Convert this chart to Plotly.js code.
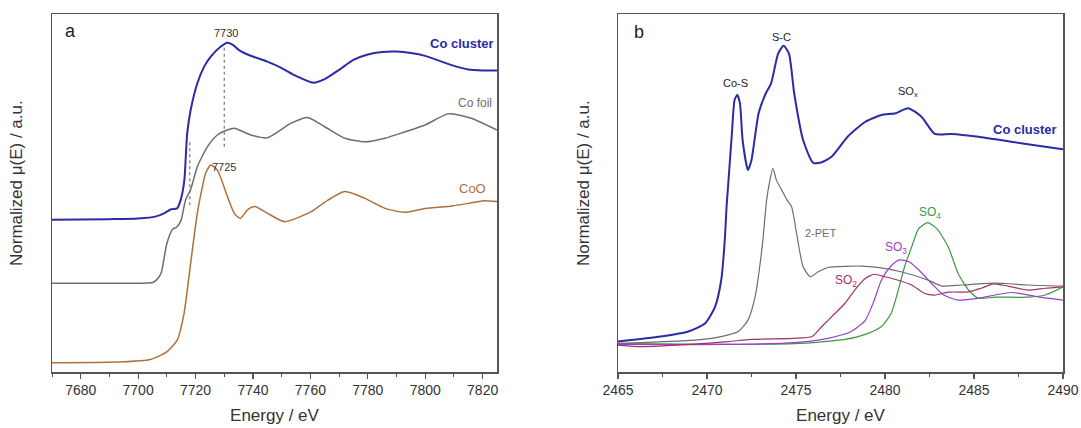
<!DOCTYPE html>
<html>
<head>
<meta charset="utf-8">
<script src="https://cdn.plot.ly/plotly-3.0.1.min.js"></script>
<style>
  html, body { margin: 0; padding: 0; background: #fff; }
  #chart { width: 1081px; height: 428px; }
</style>
</head>
<body>
<div id="chart"></div>
<script>
// ---- Panel a: Co K-edge XANES ----
const coClusterE = [7670, 7690, 7700, 7706, 7709, 7711.3, 7713.6, 7714.8, 7715.8, 7716.2, 7717.1, 7718.3, 7720.6, 7723, 7725.3, 7728.8, 7731, 7733, 7735, 7739, 7745, 7750, 7755, 7761, 7765, 7770, 7775, 7780, 7785, 7790, 7795, 7800, 7805, 7810, 7815, 7820, 7825];
const coClusterMu = [0.425, 0.427, 0.429, 0.434, 0.443, 0.454, 0.457, 0.480, 0.518, 0.545, 0.667, 0.732, 0.806, 0.853, 0.881, 0.909, 0.920, 0.914, 0.900, 0.884, 0.867, 0.849, 0.827, 0.808, 0.818, 0.844, 0.872, 0.887, 0.894, 0.895, 0.891, 0.883, 0.869, 0.855, 0.845, 0.842, 0.842];

const coFoilE = [7670, 7690, 7705, 7706.5, 7708, 7710, 7712, 7713.5, 7715, 7716.5, 7718.3, 7720.6, 7724.1, 7727.6, 7731, 7733.5, 7739.3, 7745, 7753.3, 7759, 7765, 7772, 7779, 7786, 7793, 7800, 7808, 7816, 7825];
const coFoilMu = [0.248, 0.248, 0.250, 0.258, 0.276, 0.359, 0.399, 0.405, 0.425, 0.480, 0.510, 0.573, 0.629, 0.662, 0.676, 0.681, 0.662, 0.654, 0.695, 0.711, 0.685, 0.653, 0.643, 0.653, 0.671, 0.690, 0.721, 0.709, 0.676];

const coOE = [7670, 7692.6, 7704.3, 7710.1, 7713.6, 7716, 7718.3, 7720.6, 7722.4, 7723.5, 7725.3, 7727.6, 7731.1, 7733.5, 7735.6, 7738.1, 7740.7, 7745.1, 7751, 7760.3, 7766.1, 7772, 7779, 7786, 7793, 7800, 7809.3, 7815.1, 7819.8, 7825];
const coOMu = [0.026, 0.028, 0.035, 0.057, 0.089, 0.164, 0.304, 0.443, 0.518, 0.555, 0.578, 0.564, 0.490, 0.443, 0.429, 0.453, 0.462, 0.443, 0.420, 0.448, 0.480, 0.504, 0.485, 0.457, 0.446, 0.457, 0.464, 0.471, 0.478, 0.476];

// edge / white-line markers (energy, lower and upper mu)
const guideE = [7730, 7718];
const guideLow = [0.629, 0.466];
const guideHigh = [0.910, 0.648];

// ---- Panel b: S K-edge XANES ----
const sClusterE = [2465, 2467.4, 2468.95, 2469.9, 2470.45, 2470.8, 2471.0, 2471.1, 2471.2, 2471.4, 2471.55, 2471.7, 2471.85, 2472.0, 2472.3, 2472.5, 2472.9, 2473.3, 2473.6, 2474.0, 2474.3, 2474.6, 2474.9, 2475.4, 2475.95, 2476.4, 2477.0, 2477.9, 2478.9, 2479.8, 2480.6, 2481.3, 2482.05, 2482.8, 2483.75, 2485.25, 2487.1, 2489.0, 2490];
const sClusterMu = [0.085, 0.099, 0.113, 0.136, 0.182, 0.257, 0.369, 0.462, 0.530, 0.667, 0.760, 0.774, 0.751, 0.648, 0.564, 0.592, 0.723, 0.778, 0.806, 0.890, 0.911, 0.890, 0.778, 0.648, 0.585, 0.585, 0.601, 0.657, 0.699, 0.718, 0.723, 0.737, 0.713, 0.665, 0.665, 0.657, 0.643, 0.629, 0.622];

const petE = [2465, 2469.3, 2470.8, 2471.75, 2472.3, 2472.7, 2473.1, 2473.35, 2473.5, 2473.7, 2473.9, 2474.2, 2474.5, 2474.75, 2475.0, 2475.4, 2475.8, 2476.25, 2476.8, 2478.7, 2479.6, 2480.9, 2482.4, 2483.2, 2484.3, 2486.2, 2488.05, 2490];
const petMu = [0.080, 0.089, 0.099, 0.113, 0.145, 0.210, 0.350, 0.480, 0.527, 0.569, 0.536, 0.508, 0.480, 0.462, 0.397, 0.294, 0.266, 0.280, 0.292, 0.296, 0.292, 0.280, 0.257, 0.240, 0.243, 0.248, 0.243, 0.240];

const so2E = [2465, 2466.1, 2469.3, 2471.2, 2472.5, 2474.9, 2475.9, 2476.45, 2477.2, 2477.75, 2478.3, 2478.9, 2479.4, 2480.0, 2480.7, 2481.5, 2482.2, 2482.8, 2483.55, 2484.7, 2485.4, 2486.1, 2486.9, 2488.05, 2489.0, 2490];
const so2Mu = [0.075, 0.071, 0.078, 0.085, 0.091, 0.094, 0.099, 0.127, 0.164, 0.192, 0.229, 0.262, 0.273, 0.266, 0.257, 0.243, 0.220, 0.215, 0.223, 0.224, 0.234, 0.246, 0.240, 0.229, 0.234, 0.238];

const so3E = [2465, 2471.2, 2474.9, 2476.8, 2478.1, 2478.9, 2479.4, 2479.8, 2480.3, 2480.8, 2481.35, 2481.9, 2482.6, 2483.3, 2484.1, 2485.25, 2487.1, 2488.6, 2490];
const so3Mu = [0.077, 0.077, 0.082, 0.094, 0.113, 0.145, 0.201, 0.257, 0.294, 0.313, 0.308, 0.285, 0.248, 0.215, 0.201, 0.206, 0.222, 0.210, 0.201];

const so4E = [2465, 2474.9, 2477.75, 2479.05, 2479.8, 2480.35, 2480.7, 2481.1, 2481.5, 2481.9, 2482.4, 2482.9, 2483.55, 2484.1, 2484.7, 2485.25, 2486.2, 2488.05, 2489.0, 2490];
const so4Mu = [0.079, 0.079, 0.091, 0.108, 0.127, 0.164, 0.220, 0.294, 0.350, 0.401, 0.417, 0.401, 0.350, 0.276, 0.229, 0.206, 0.209, 0.209, 0.215, 0.237];

const tickValsA = [7680, 7700, 7720, 7740, 7760, 7780, 7800, 7820];
const tickValsB = [2465, 2470, 2475, 2480, 2485, 2490];

const BLUE = '#2b2ba8', GREY = '#6e6e6e', BROWN = '#b0703c';
const MAROON = '#a0346a', PURPLE = '#9a3fd0', GREEN = '#3c9a3c';
const FONT = 'Liberation Sans, Arial, sans-serif';

function line(x, y, color, width, xa, ya) {
  return { x, y, xaxis: xa, yaxis: ya, type: 'scatter', mode: 'lines',
    line: { color, width, shape: 'spline', smoothing: 0.6 }, hoverinfo: 'skip', showlegend: false };
}

const traces = [
  line(coOE, coOMu, BROWN, 1.5, 'x', 'y'),
  line(coFoilE, coFoilMu, GREY, 1.5, 'x', 'y'),
  line(coClusterE, coClusterMu, BLUE, 2, 'x', 'y'),
  line(so4E, so4Mu, GREEN, 1.2, 'x2', 'y2'),
  line(so3E, so3Mu, PURPLE, 1.2, 'x2', 'y2'),
  line(so2E, so2Mu, MAROON, 1.2, 'x2', 'y2'),
  line(petE, petMu, GREY, 1.2, 'x2', 'y2'),
  line(sClusterE, sClusterMu, BLUE, 2, 'x2', 'y2')
];

const xCommon = {
  showgrid: false, zeroline: false, showline: true, mirror: true,
  linecolor: '#555', linewidth: 1.5, ticks: 'outside', ticklen: 5, tickwidth: 1.2,
  tickcolor: '#555', tickfont: { family: FONT, size: 14, color: '#333' },
  minor: { ticks: 'outside', ticklen: 3, tickcolor: '#555', tickwidth: 1 },
  title: { text: 'Energy / eV', font: { family: FONT, size: 17, color: '#333' }, standoff: 12 }
};
const yCommon = {
  range: [0, 1], showgrid: false, zeroline: false, showline: true, mirror: true,
  linecolor: '#555', linewidth: 1.5, ticks: '', showticklabels: false
};

const annotations = [];
function label(text, xref, yref, x, y, color, size, opts) {
  annotations.push(Object.assign({ text, xref, yref, x, y, showarrow: false,
    xanchor: 'center', yanchor: 'middle',
    font: { family: FONT, size, color } }, opts || {}));
}
// panel letters
label('a', 'paper', 'paper', 70 / 1081, (372 - 31) / 358, '#222', 18);
label('b', 'paper', 'paper', 639 / 1081, (372 - 32) / 358, '#222', 18);
// panel a labels
label('<b>Co cluster</b>', 'x', 'y', 7825, 0.918, BLUE, 13, { xanchor: 'right', xshift: -1 });
label('Co foil', 'x', 'y', 7824, 0.751, GREY, 12, { xanchor: 'right' });
label('CoO', 'x', 'y', 7822, 0.513, BROWN, 13, { xanchor: 'right' });
label('7730', 'x', 'y', 7730.5, 0.948, '#333', 11);
label('7725', 'x', 'y', 7730, 0.573, '#333', 11);
// panel b labels
label('Co-S', 'x2', 'y2', 2471.6, 0.808, '#222', 11);
label('S-C', 'x2', 'y2', 2474.2, 0.935, '#222', 11);
label('SO<sub>x</sub>', 'x2', 'y2', 2481.3, 0.783, '#222', 11);
label('<b>Co cluster</b>', 'x2', 'y2', 2489.8, 0.676, BLUE, 13, { xanchor: 'right' });
label('2-PET', 'x2', 'y2', 2475.4, 0.387, GREY, 11, { xanchor: 'left' });
label('SO<sub>2</sub>', 'x2', 'y2', 2477.8, 0.253, MAROON, 12);
label('SO<sub>3</sub>', 'x2', 'y2', 2480.6, 0.345, PURPLE, 12);
label('SO<sub>4</sub>', 'x2', 'y2', 2482.5, 0.443, GREEN, 12);
// y-axis titles
label('Normalized \u03bc(E) / a.u.', 'paper', 'paper', 17 / 1081, 0.528, '#333', 17, { textangle: -90 });
label('Normalized \u03bc(E) / a.u.', 'paper', 'paper', 584 / 1081, 0.528, '#333', 17, { textangle: -90 });

const shapes = guideE.map((e, i) => ({
  type: 'line', xref: 'x', yref: 'y', x0: e, x1: e, y0: guideLow[i], y1: guideHigh[i],
  line: { color: '#777', width: 1.2, dash: 'dot' }
}));

const layout = {
  width: 1081, height: 428,
  margin: { l: 0, r: 0, t: 14, b: 56 },
  paper_bgcolor: '#fff', plot_bgcolor: '#fff',
  font: { family: FONT },
  xaxis: Object.assign({}, xCommon, { domain: [52 / 1081, 497 / 1081], range: [7670, 7825],
    tickvals: tickValsA, minor: Object.assign({}, xCommon.minor, { dtick: 10, tick0: 7670 }), anchor: 'y' }),
  yaxis: Object.assign({}, yCommon, { domain: [0, 1], anchor: 'x' }),
  xaxis2: Object.assign({}, xCommon, { domain: [618 / 1081, 1063 / 1081], range: [2465, 2490],
    tickvals: tickValsB, minor: Object.assign({}, xCommon.minor, { dtick: 2.5, tick0: 2465 }), anchor: 'y2' }),
  yaxis2: Object.assign({}, yCommon, { domain: [0, 1], anchor: 'x2' }),
  annotations, shapes
};

Plotly.newPlot('chart', traces, layout, { staticPlot: true, displayModeBar: false });
</script>
</body>
</html>
